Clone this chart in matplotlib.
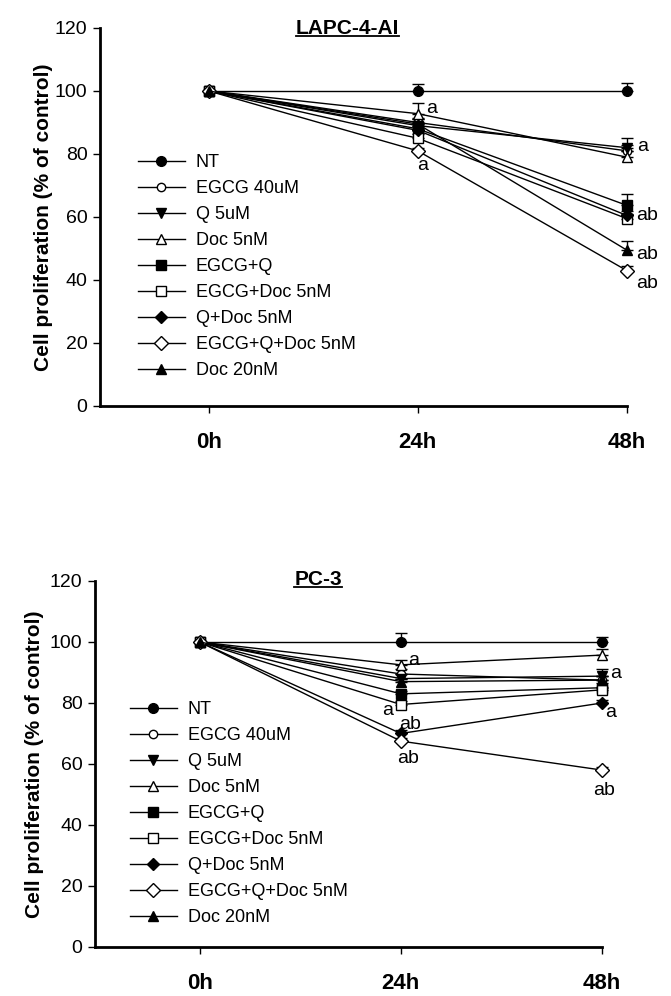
import matplotlib
matplotlib.use('Agg')
import matplotlib.pyplot as plt
from matplotlib.lines import Line2D

plt.rcParams['font.family'] = ['Liberation Sans', 'DejaVu Sans']

times = ['0h', '24h', '48h']
groups = ['NT', 'EGCG 40uM', 'Q 5uM', 'Doc 5nM', 'EGCG+Q', 'EGCG+Doc 5nM',
          'Q+Doc 5nM', 'EGCG+Q+Doc 5nM', 'Doc 20nM']

# LAPC-4-AI
lapc_nt = [100, 100, 100]
lapc_egcg = [100, 90, 81]
lapc_q = [100, 89, 82]
lapc_doc5 = [100, 92.8, 79]
lapc_egcg_q = [100, 88, 63.7]
lapc_egcg_doc = [100, 85, 59.5]
lapc_q_doc = [100, 87.5, 60.5]
lapc_egcg_q_doc = [100, 81, 43]
lapc_doc20 = [100, 89.5, 49.5]
lapc_err = [[0, 2.2, 2.4], [0, 1.5, 2], [0, 2, 3], [0, 3.5, 2], [0, 1.5, 3.5],
            [0, 1.5, 1.5], [0, 1.5, 1.5], [0, 1, 1.5], [0, 1.5, 3]]

# PC-3
pc3_nt = [100, 100, 100]
pc3_egcg = [100, 89.5, 87.5]
pc3_q = [100, 88, 88.8]
pc3_doc5 = [100, 92.5, 95.7]
pc3_egcg_q = [100, 83, 85]
pc3_egcg_doc = [100, 79.5, 84.3]
pc3_q_doc = [100, 70, 80]
pc3_egcg_q_doc = [100, 67.5, 58]
pc3_doc20 = [100, 87, 87.5]
pc3_err = [[0, 3, 1.5], [0, 1.5, 1.5], [0, 1.5, 2.3], [0, 1.5, 2], [0, 1, 1.5],
           [0, 1, 1], [0, 1, 1], [0, 1, 1], [0, 1, 1.5]]

# significance letters: (group index, time index, text)
lapc_marks = [(3, 1, 'a'), (7, 1, 'a'), (2, 2, 'a'), (5, 2, 'ab'), (8, 2, 'ab'), (7, 2, 'ab')]
pc3_marks = [(3, 1, 'a'), (5, 1, 'a'), (6, 1, 'ab'), (7, 1, 'ab'), (2, 2, 'a'), (6, 2, 'a'), (7, 2, 'ab')]

# marker styles
markers = ['o', 'o', 'v', '^', 's', 's', 'D', 'D', '^']
filled = [True, False, True, False, True, False, True, False, True]
msizes = [7, 6, 7, 7, 6.5, 7, 6, 7, 7]

lapc_offsets = [(14, 5), (5, -15), (16, 1), (20, 3), (20, -4), (20, -13)]
pc3_offsets = [(13, 4), (-13, -6), (9, 9), (7, -17), (14, 3), (9, -10), (2, -20)]

fig = plt.figure(figsize=(6.71, 9.96), dpi=100)
ax1 = fig.add_axes([0.149, 0.5924, 0.785, 0.3795])
ax2 = fig.add_axes([0.1416, 0.0492, 0.7556, 0.3675])

narrow = ['Liberation Sans Narrow', 'Liberation Sans', 'DejaVu Sans']


def draw(ax, series, errs, marks, offsets, title, leg_anchor, title_xy, ypad):
    x = [0, 1, 2]
    for i, y in enumerate(series):
        ax.errorbar(x, y, yerr=[[0, 0, 0], errs[i]], fmt='none', ecolor='black',
                    elinewidth=1, capsize=4.5, capthick=1, zorder=2, clip_on=False)
    for i, y in enumerate(series):
        ax.plot(x, y, color='black', lw=1, marker=markers[i], ms=msizes[i],
                mfc='black' if filled[i] else 'white', mec='black', mew=1,
                label=groups[i], zorder=3, clip_on=False)
    for (g, t, txt), (dx, dy) in zip(marks, offsets):
        ax.annotate(txt, (x[t], series[g][t]), xytext=(dx, dy),
                    textcoords='offset pixels', ha='center', va='center', fontsize=14)
    ax.set_xlim(-0.52, 2)
    ax.set_ylim(0, 120)
    ax.set_yticks(range(0, 121, 20))
    ax.set_xticks(x)
    ax.set_xticklabels(times, fontweight='bold', fontsize=16, family=narrow)
    ax.tick_params(axis='y', labelsize=14, length=5, width=1, pad=4)
    ax.tick_params(axis='x', length=5, width=1, pad=14)
    for s in ['top', 'right']:
        ax.spines[s].set_visible(False)
    for s in ['left', 'bottom']:
        ax.spines[s].set_linewidth(2)
    ax.set_ylabel('Cell proliferation (% of control)', fontweight='bold', fontsize=15, labelpad=ypad)
    ax.legend(loc='upper left', bbox_to_anchor=leg_anchor, frameon=False, fontsize=13,
              handlelength=2.6, handletextpad=0.6, labelspacing=0.5, borderpad=0,
              borderaxespad=0)
    t = ax.set_title(title, fontweight='bold', fontsize=15, family=narrow, pad=0,
                     x=title_xy[0], y=title_xy[1])
    return t


t1 = draw(ax1, [lapc_nt, lapc_egcg, lapc_q, lapc_doc5, lapc_egcg_q, lapc_egcg_doc,
                lapc_q_doc, lapc_egcg_q_doc, lapc_doc20],
          lapc_err, lapc_marks, lapc_offsets, 'LAPC-4-AI', (0.072, 0.667), (0.47, 0.985), 1)
t2 = draw(ax2, [pc3_nt, pc3_egcg, pc3_q, pc3_doc5, pc3_egcg_q, pc3_egcg_doc,
                pc3_q_doc, pc3_egcg_q_doc, pc3_doc20],
          pc3_err, pc3_marks, pc3_offsets, 'PC-3', (0.069, 0.672), (0.44, 0.99), 4)

fig.canvas.draw()
inv = fig.transFigure.inverted()
for t in [t1, t2]:
    bb = t.get_window_extent()
    (x0, y0), (x1, y1) = inv.transform([(bb.x0, bb.y0 + 2), (bb.x1, bb.y0 + 2)])
    fig.add_artist(Line2D([x0, x1], [y0, y1], color='black', lw=1.3, transform=fig.transFigure))

fig.savefig('out.png', dpi=100)
